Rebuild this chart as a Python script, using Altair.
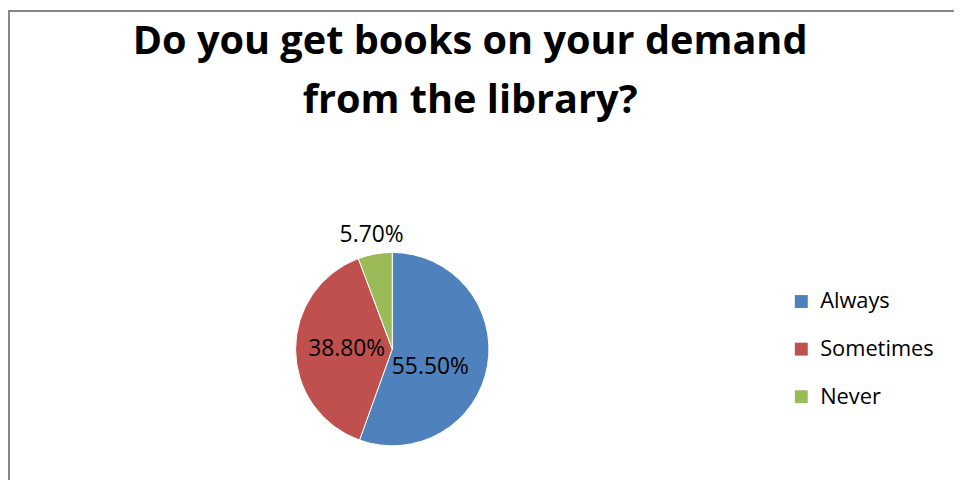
import altair as alt
import pandas as pd

# ---- data ----
categories = ["Always", "Sometimes", "Never"]
values = [55.5, 38.8, 5.7]
labels = ["55.50%", "38.80%", "5.70%"]
colors = ["#4F81BD", "#C0504D", "#9BBB59"]
title_lines = ["Do you get books on your demand", "from the library?"]

df = pd.DataFrame({
    "category": categories,
    "value": values,
    "label": labels,
    "order": list(range(len(categories))),
})

W, H = 954, 474
CX, CY = 387.5, 342
R = 97.5

base = alt.Chart(df).transform_stack(
    stack="value", groupby=[], as_=["v0", "v1"], sort=[alt.SortField("order")]
).transform_calculate(mid="(datum.v0 + datum.v1) / 2")

pie = base.mark_arc(x=CX, y=CY, outerRadius=R, stroke="white", strokeWidth=1).encode(
    theta=alt.Theta("value:Q", stack=True),
    order=alt.Order("order:Q"),
    color=alt.Color(
        "category:N",
        scale=alt.Scale(domain=categories, range=colors),
        sort=categories,
        legend=alt.Legend(
            title=None,
            orient="none",
            legendX=789,
            legendY=283,
            symbolType="square",
            symbolSize=170,
            symbolStrokeWidth=0,
            labelFont="Open Sans",
            labelFontSize=22,
            labelColor="#000000",
            labelOffset=8,
            rowPadding=26,
            padding=0,
        ),
    ),
)

txt_common = dict(x=CX, y=CY, font="Open Sans", fontSize=23, color="#000000",
                  align="center", baseline="middle")


def label_layer(cat, **kw):
    return base.transform_filter(alt.datum.category == cat).mark_text(
        **txt_common, **kw
    ).encode(theta=alt.Theta("mid:Q", stack=None), text="label:N")


lab_always = label_layer(categories[0], radius=42, dx=-3, dy=11)
lab_some = label_layer(categories[1], radius=46)
lab_never = label_layer(categories[2], radius=117)

title = alt.Chart(alt.Data(values=[{"k": 0}])).mark_text(
    font="Open Sans", fontSize=40, fontWeight="bold", color="#000000",
    align="center", baseline="alphabetic", lineHeight=60,
).encode(
    x=alt.value(466), y=alt.value(44), text=alt.value(title_lines)
)

one = alt.Data(values=[{"k": 0}])
border_left = alt.Chart(one).mark_rule(color="#878787", strokeWidth=2).encode(
    x=alt.value(1), y=alt.value(0), y2=alt.value(H)
)
border_top = alt.Chart(one).mark_rule(color="#878787", strokeWidth=2).encode(
    y=alt.value(1), x=alt.value(0), x2=alt.value(W)
)

chart = alt.layer(
    pie, lab_always, lab_some, lab_never, title, border_left, border_top
).properties(
    width=W, height=H, autosize=alt.AutoSizeParams(type="none"), padding=0,
    background="white",
).configure_view(stroke=None)

chart.save("out.html", embed_options={"renderer": "svg", "actions": False})
